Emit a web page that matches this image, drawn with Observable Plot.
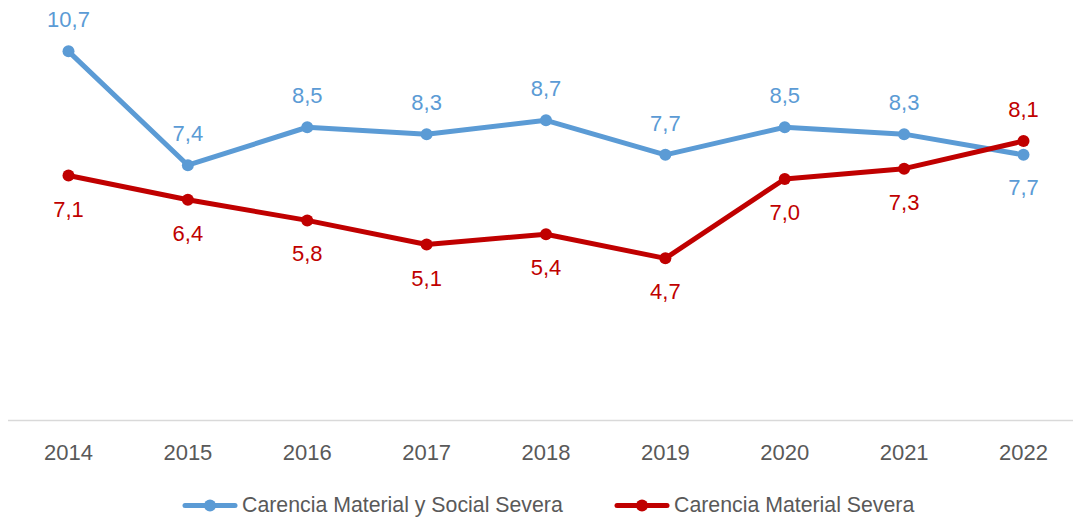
<!DOCTYPE html>
<html><head><meta charset="utf-8">
<script src="https://cdn.jsdelivr.net/npm/d3@7"></script>
<script src="https://cdn.jsdelivr.net/npm/@observablehq/plot@0.6"></script>
<style>
body{margin:0;background:#fff;font-family:"Liberation Sans",Arial,sans-serif;}
#legend{position:relative;height:48px;}
.item{position:absolute;top:35px;display:flex;align-items:center;font-size:21.3px;color:#595959;white-space:nowrap;}
.item svg{margin-right:4px;}
</style></head>
<body><div id="chart"></div><div id="legend"></div>
<script>
const years = [2014, 2015, 2016, 2017, 2018, 2019, 2020, 2021, 2022];
const seriesNames = ["Carencia Material y Social Severa", "Carencia Material Severa"];
const blueValues = [10.7, 7.4, 8.5, 8.3, 8.7, 7.7, 8.5, 8.3, 7.7];
const redValues = [7.1, 6.4, 5.8, 5.1, 5.4, 4.7, 7.0, 7.3, 8.1];
const colors = ["#5B9BD5", "#C00000"];

const blue = years.map((y, i) => ({year: y, value: blueValues[i], s: 0}));
const red = years.map((y, i) => ({year: y, value: redValues[i], s: 1}));
const fmt = v => v.toFixed(1).replace(".", ",");
const last = years[years.length - 1];

const chart = Plot.plot({
  width: 1073, height: 470,
  marginLeft: 68, marginRight: 50, marginTop: 6, marginBottom: 50,
  style: {fontFamily: "'Liberation Sans', Arial, sans-serif", background: "#fff"},
  x: {type: "linear", domain: [2014, 2022], label: null},
  y: {domain: [0, 12], axis: null},
  marks: [
    Plot.ruleY([0], {stroke: "#D9D9D9", strokeWidth: 1.5, insetLeft: -60, insetRight: -50}),
    Plot.axisX({ticks: years, tickFormat: d => String(d), tickSize: 0, tickPadding: 24, fontSize: 22, fill: "#595959", label: null}),
    Plot.line(blue, {x: "year", y: "value", stroke: colors[0], strokeWidth: 5}),
    Plot.line(red, {x: "year", y: "value", stroke: colors[1], strokeWidth: 5}),
    Plot.dot(blue, {x: "year", y: "value", fill: colors[0], r: 6}),
    Plot.dot(red, {x: "year", y: "value", fill: colors[1], r: 6}),
    Plot.text(blue.filter(d => d.year !== last), {x: "year", y: "value", text: d => fmt(d.value), dy: -31, fill: colors[0], fontSize: 22}),
    Plot.text(blue.filter(d => d.year === last), {x: "year", y: "value", text: d => fmt(d.value), dy: 33, fill: colors[0], fontSize: 22}),
    Plot.text(red.filter(d => d.year !== last), {x: "year", y: "value", text: d => fmt(d.value), dy: 34, fill: colors[1], fontSize: 22}),
    Plot.text(red.filter(d => d.year === last), {x: "year", y: "value", text: d => fmt(d.value), dy: -31, fill: colors[1], fontSize: 22})
  ]
});
document.getElementById("chart").appendChild(chart);

const legend = document.getElementById("legend");
const lefts = [182, 614];
seriesNames.forEach((name, i) => {
  const it = document.createElement("div");
  it.className = "item";
  it.style.left = lefts[i] + "px";
  it.style.transform = "translateY(-50%)";
  it.innerHTML = `<svg width="56" height="14"><line x1="3" y1="7" x2="53" y2="7" stroke="${colors[i]}" stroke-width="5" stroke-linecap="round"/><circle cx="28" cy="7" r="6" fill="${colors[i]}"/></svg><span>${name}</span>`;
  legend.appendChild(it);
});
</script></body></html>
